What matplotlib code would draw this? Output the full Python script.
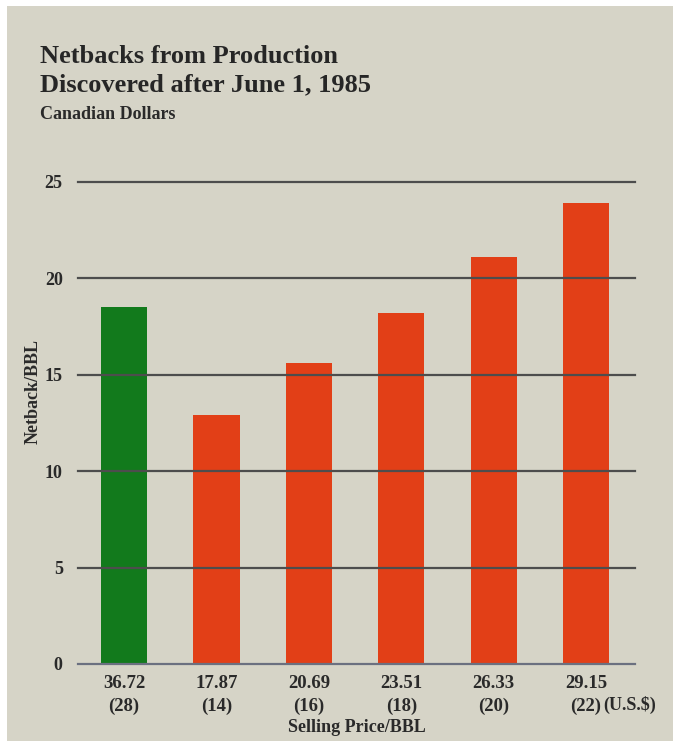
import matplotlib
matplotlib.use("Agg")
import matplotlib.pyplot as plt
from matplotlib.patches import Rectangle

# netback per barrel at each selling price
prices_cad = ["36.72", "17.87", "20.69", "23.51", "26.33", "29.15"]
prices_usd = ["28", "14", "16", "18", "20", "22"]
netbacks = [18.5, 12.9, 15.6, 18.2, 21.1, 23.9]
bar_colors = ["#127a1c", "#e23f17", "#e23f17", "#e23f17", "#e23f17", "#e23f17"]
y_ticks = [0, 5, 10, 15, 20, 25]

paper = "#d6d4c7"
ink = "#2a2a2a"
serif = ["Liberation Serif", "DejaVu Serif"]

W, H = 673, 741
fig = plt.figure(figsize=(W / 100, H / 100), dpi=100, facecolor=paper)

# white scan edge along top and left
fig.patches.append(Rectangle((0, 1 - 6 / H), 1, 6 / H, transform=fig.transFigure,
                             facecolor="white", edgecolor="none", zorder=0))
fig.patches.append(Rectangle((0, 0), 7 / W, 1, transform=fig.transFigure,
                             facecolor="white", edgecolor="none", zorder=0))

ax = fig.add_axes([78 / W, 77 / H, 557 / W, 482 / H])
ax.set_facecolor("none")

x = list(range(len(netbacks)))
ax.bar(x, netbacks, width=0.5, color=bar_colors, zorder=2)

# horizontal rules drawn over the bars
for t in y_ticks:
    c = "#6b7080" if t == 0 else "#4d4d4d"
    ax.axhline(t, color=c, lw=1.6, zorder=3, clip_on=False)

ax.set_xlim(-0.5, 5.53)
ax.set_ylim(0, 25)
for s in ax.spines.values():
    s.set_visible(False)

ax.set_yticks(y_ticks)
ax.set_yticklabels([str(t) for t in y_ticks], fontfamily=serif,
                   fontweight="bold", fontsize=13, color=ink)
ax.set_xticks(x)
ax.set_xticklabels([f"{c}\n({u})" for c, u in zip(prices_cad, prices_usd)],
                   fontfamily=serif, fontweight="bold", fontsize=13.5,
                   color=ink, linespacing=1.4)
ax.tick_params(axis="both", length=0)
ax.tick_params(axis="y", pad=11)
ax.tick_params(axis="x", pad=8)

ax.text(5.19, -2.1, "(U.S.$)", fontfamily=serif, fontweight="bold",
        fontsize=13, color=ink, ha="left", va="center", clip_on=False)

fig.text(33 / W, 1 - 392 / H, "Netback/BBL", rotation=90, ha="center",
         va="center", fontfamily=serif, fontweight="bold", fontsize=13,
         color=ink)
fig.text(357 / W, 1 - 727 / H, "Selling Price/BBL", ha="center", va="center",
         fontfamily=serif, fontweight="bold", fontsize=13, color=ink)

fig.text(40 / W, 1 - 91 / H, "Netbacks from Production\nDiscovered after June 1, 1985",
         ha="left", va="baseline", fontfamily=serif, fontweight="bold",
         fontsize=19, color="#262626", linespacing=1.3)
fig.text(40 / W, 1 - 119 / H, "Canadian Dollars", ha="left", va="baseline",
         fontfamily=serif, fontweight="bold", fontsize=13, color=ink)

fig.savefig("out.png", dpi=100, facecolor=paper)
